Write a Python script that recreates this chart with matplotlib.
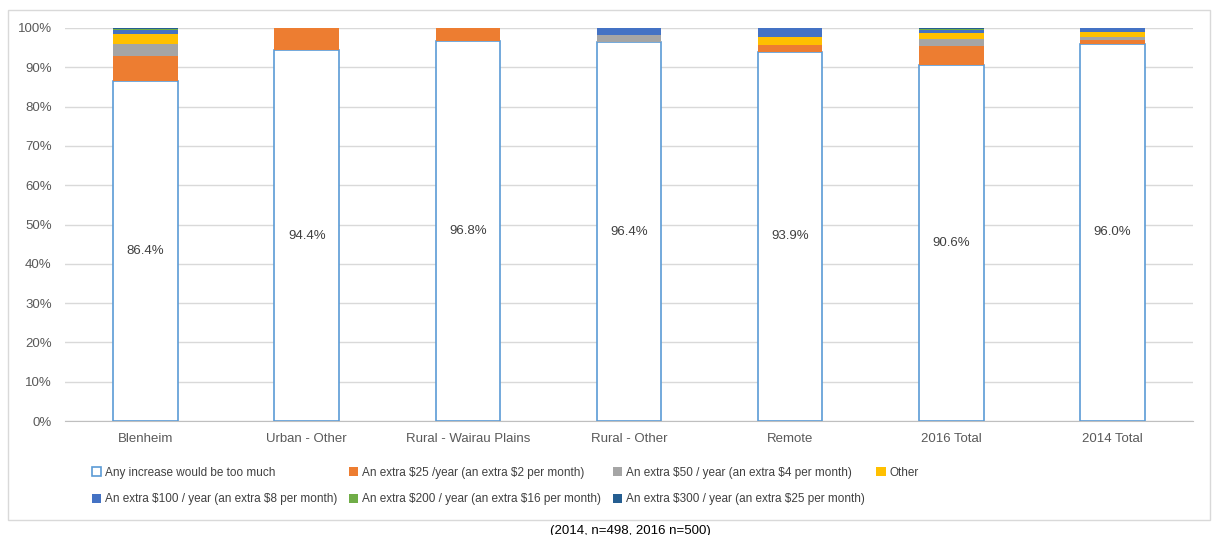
import matplotlib.pyplot as plt
import matplotlib.patches as mpatches
import numpy as np

plt.rcParams['font.family'] = ['Liberation Sans', 'DejaVu Sans']
plt.rcParams['text.parse_math'] = False

categories = ["Blenheim", "Urban - Other", "Rural - Wairau Plains", "Rural - Other",
              "Remote", "2016 Total", "2014 Total"]
series_names = ["Any increase would be too much",
                "An extra $25 /year (an extra $2 per month)",
                "An extra $50 / year (an extra $4 per month)",
                "Other",
                "An extra $100 / year (an extra $8 per month)",
                "An extra $200 / year (an extra $16 per month)",
                "An extra $300 / year (an extra $25 per month)"]
too_much = [86.4, 94.4, 96.8, 96.4, 93.9, 90.6, 96.0]
extra25 = [6.5, 5.6, 3.2, 0.0, 1.8, 4.8, 1.0]
extra50 = [3.0, 0.0, 0.0, 1.8, 0.0, 1.7, 0.8]
other = [2.7, 0.0, 0.0, 0.0, 2.1, 1.7, 1.2]
extra100 = [0.8, 0.0, 0.0, 1.8, 2.2, 0.8, 1.0]
extra200 = [0.4, 0.0, 0.0, 0.0, 0.0, 0.2, 0.0]
extra300 = [0.2, 0.0, 0.0, 0.0, 0.0, 0.2, 0.0]

series = [too_much, extra25, extra50, other, extra100, extra200, extra300]
colors = ["white", "#ED7D31", "#A5A5A5", "#FFC000", "#4472C4", "#70AD47", "#255E91"]

fig = plt.figure(figsize=(12.13, 5.35), dpi=100)
ax = fig.add_axes([65 / 1213, 1 - 421 / 535, (1193 - 65) / 1213, (421 - 28) / 535])

x = np.arange(len(categories))
bottom = np.zeros(len(categories))
handles = []
for name, vals, col in zip(series_names, series, colors):
    vals = np.array(vals)
    if col == "white":
        b = ax.bar(x, vals, 0.4, bottom=bottom, color=col, edgecolor="#5B9BD5",
                   linewidth=1.2, zorder=3, label=name)
        for xi, v in zip(x, vals):
            ax.text(xi, v / 2, f"{v:.1f}%", ha="center", va="center",
                    fontsize=9.5, color="#404040", zorder=4)
    else:
        b = ax.bar(x, vals, 0.4, bottom=bottom, color=col, linewidth=0,
                   zorder=3, label=name)
    handles.append(b)
    bottom += vals

ax.set_xlim(-0.5, len(categories) - 0.5)
ax.set_ylim(0, 100)
ax.set_yticks(np.arange(0, 101, 10))
ax.set_yticklabels([f"{v}%" for v in range(0, 101, 10)])
ax.set_xticks(x)
ax.set_xticklabels(categories)
ax.tick_params(axis="both", length=0, labelsize=9.5, colors="#595959")
ax.tick_params(axis="x", pad=9)
ax.tick_params(axis="y", pad=9.5)
ax.grid(axis="y", color="#D9D9D9", linewidth=1, zorder=0)
for s in ["top", "right", "left"]:
    ax.spines[s].set_visible(False)
ax.spines["bottom"].set_color("#BFBFBF")

# legend fills column-wise, so reorder to get the two rows right
order = [0, 4, 1, 5, 2, 6, 3]
leg = fig.legend([handles[i] for i in order], [series_names[i] for i in order],
                 ncol=4, loc="upper left", bbox_to_anchor=(81 / 1213, 1 - 456 / 535),
                 frameon=False, fontsize=8.5, handlelength=0.8, handleheight=0.8,
                 handletextpad=0.3, columnspacing=1.0, labelspacing=1.25,
                 labelcolor="#404040")

fig.add_artist(mpatches.Rectangle((8 / 1213, 1 - 520 / 535), (1210 - 8) / 1213,
                                  (520 - 10) / 535, transform=fig.transFigure,
                                  fill=False, edgecolor="#D9D9D9", linewidth=1))
fig.text(630 / 1213, 1 - 531 / 535, "(2014, n=498, 2016 n=500)", ha="center",
         va="center", fontsize=9.5, color="#000000")

fig.savefig("out.png", dpi=100)
